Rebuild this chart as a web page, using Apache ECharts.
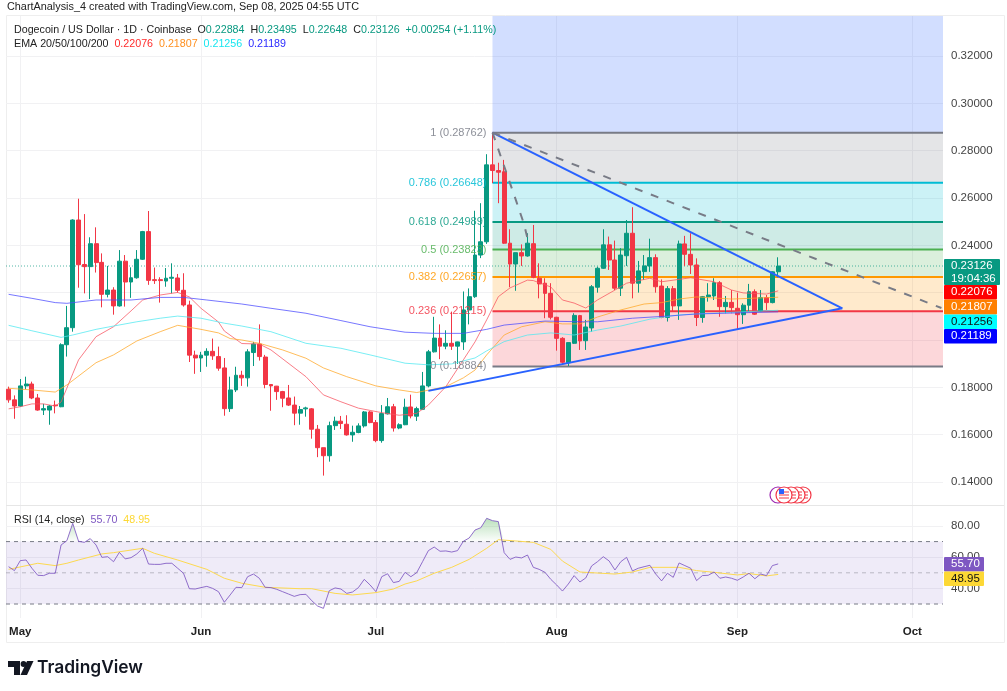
<!DOCTYPE html>
<html>
<head>
<meta charset="utf-8">
<title>DOGE/USD</title>
<style>
html,body{margin:0;padding:0;background:#fff}
#main{width:1007px;height:691px}
</style>
<script src="https://cdn.jsdelivr.net/npm/echarts@6/dist/echarts.min.js"></script>
</head>
<body>
<div id="main"></div>
<script>
// daily candles, index 0 = Apr 29 2025
let opens = [.1792,.1747,.1721,.1806,.1814,.1755,.1704,.1704,.1725,.1718,
.1980,.2052,.2507,.2319,.2310,.2407,.2328,.2193,.2211,.2144,
.2333,.2245,.2263,.2341,.2458,.2255,.2255,.2249,.2261,.2262,
.2210,.2148,.1936,.1924,.1936,.1952,.1930,.1882,.1710,.1789,
.1851,.1840,.1947,.1983,.1928,.1812,.1805,.1782,.1755,.1725,
.1691,.1709,.1709,.1623,.1545,.1511,.1638,.1657,.1644,.1599,
.1609,.1637,.1696,.1651,.1575,.1688,.1718,.1628,.1642,.1717,
.1678,.1707,.1806,.1950,.2008,.1974,.1986,.1974,.1992,.2127,
.2183,.2359,.2415,.2740,.2716,.2711,.2409,.2321,.2369,.2355,
.2407,.2261,.2240,.2197,.2096,.2007,.1904,.1986,.2103,.1997,
.2051,.2223,.2303,.2402,.2338,.2219,.2356,.2451,.2240,.2289,
.2313,.2348,.2228,.2095,.2217,.2144,.2406,.2362,.2317,.2095,
.2183,.2186,.2242,.2141,.2159,.2134,.2107,.2147,.2204,.2123,
.2179,.2158,.22884]
let highs = [.1803,.1766,.1835,.1845,.1824,.1772,.1730,.1725,.1744,.1986,
.2144,.2510,.2597,.2532,.2434,.2476,.2366,.2313,.2223,.2380,
.2359,.2307,.2380,.2461,.2545,.2306,.2265,.2304,.2324,.2279,
.2282,.2166,.1955,.1950,.1965,.2006,.1972,.1924,.1845,.1887,
.1870,.1961,.1992,.2066,.1937,.1814,.1806,.1785,.1810,.1761,
.1721,.1718,.1712,.1641,.1545,.1655,.1676,.1679,.1682,.1638,
.1648,.1700,.1700,.1662,.1725,.1755,.1730,.1648,.1752,.1769,
.1718,.1865,.1958,.2098,.2066,.2041,.2120,.1993,.2205,.2218,
.2546,.2578,.2785,.2876,.2749,.2761,.2468,.2369,.2404,.2451,
.2486,.2324,.2261,.2240,.2098,.2012,.1989,.2113,.2106,.2085,
.2232,.2310,.2468,.2437,.2420,.2388,.2507,.2561,.2334,.2359,
.2428,.2362,.2256,.2228,.2228,.2420,.2440,.2451,.2345,.2186,
.2240,.2261,.2249,.2186,.2211,.2200,.2155,.2237,.2214,.2211,
.2190,.2290,.23495]
let lows = [.1735,.1667,.1718,.1792,.1750,.1701,.1683,.1642,.1690,.1716,
.1930,.2035,.2221,.2197,.2173,.2285,.2138,.2180,.2107,.2141,
.2141,.2178,.2259,.2338,.2233,.2237,.2158,.2225,.2197,.2200,
.2141,.1907,.1857,.1865,.1887,.1916,.1870,.1680,.1696,.1780,
.1806,.1803,.1890,.1913,.1796,.1701,.1747,.1716,.1721,.1640,
.1642,.1676,.1583,.1505,.1427,.1486,.1620,.1624,.1596,.1570,
.1606,.1630,.1648,.1568,.1566,.1685,.1613,.1623,.1640,.1669,
.1658,.1704,.1800,.1947,.1919,.1961,.1958,.1899,.1958,.2066,
.2178,.2346,.2406,.2663,.2578,.2406,.2223,.2208,.2313,.2352,
.2261,.2176,.2092,.2087,.1955,.1899,.1890,.1983,.1958,.1958,
.2035,.2200,.2300,.2296,.2211,.2186,.2313,.2176,.2200,.2254,
.2288,.2200,.2092,.2078,.2120,.2085,.2313,.2279,.2059,.2073,
.2162,.2169,.2098,.2113,.2113,.2045,.2068,.2120,.2106,.2120,
.2127,.2155,.22648]
let closes = [.1747,.1721,.1806,.1814,.1755,.1704,.1710,.1721,.1722,.1980,
.2052,.2507,.2318,.2310,.2407,.2327,.2193,.2211,.2144,.2333,
.2245,.2263,.2341,.2458,.2252,.2251,.2251,.2261,.2265,.2210,
.2148,.1936,.1924,.1936,.1952,.1933,.1881,.1710,.1789,.1851,
.1840,.1950,.1983,.1930,.1812,.1806,.1782,.1754,.1725,.1691,
.1706,.1713,.1623,.1545,.1511,.1638,.1657,.1647,.1599,.1610,
.1637,.1696,.1651,.1575,.1689,.1718,.1628,.1642,.1716,.1679,
.1710,.1806,.1950,.2008,.1974,.1986,.1974,.1992,.2127,.2183,
.2359,.2415,.2740,.2716,.2709,.2409,.2321,.2369,.2355,.2409,
.2265,.2237,.2197,.2096,.2007,.1906,.1989,.2104,.1996,.2055,
.2225,.2303,.2402,.2338,.2219,.2359,.2451,.2240,.2292,.2313,
.2348,.2225,.2095,.2217,.2144,.2406,.2362,.2317,.2095,.2183,
.2190,.2242,.2141,.2159,.2137,.2107,.2147,.2204,.2109,.2179,
.2158,.2288,.23126]

let ema20 = [[0,.1709],[2,.1718],[4,.1730],[6,.1730],[8,.1721],[9,.1738],[10,.1797],[11,.1857],[12,.1916],[15,.2014],
[18,.2056],[21,.2123],[23,.2169],[26,.2190],[29,.2201],[31,.2182],[33,.2134],[36,.2076],[37,.2038],[40,.1985],
[43,.1983],[45,.1958],[51,.1845],[54,.1768],[57,.1739],[60,.1712],[64,.1693],[67,.1682],[70,.1690],[72,.1725],
[75,.1803],[78,.1916],[80,.1992],[82,.2085],[84,.2183],[86,.2220],[89,.2253],[90,.2251],[93,.2224],[95,.2169],
[97,.2156],[99,.2135],[101,.2169],[104,.2211],[106,.2240],[110,.2261],[112,.2246],[117,.2263],[121,.2246],[124,.2211],
[126,.2199],[130,.2194],[132,.22076]]
let ema50 = [[0,.1796],[4,.1789],[8,.1780],[10,.1810],[15,.1904],[18,.1937],[22,.1996],[26,.2035],[29,.2062],[33,.2045],
[36,.2030],[38,.2006],[40,.2000],[43,.1986],[47,.1958],[51,.1923],[54,.1882],[58,.1845],[63,.1806],[67,.1789],
[70,.1778],[75,.1803],[78,.1840],[80,.1873],[82,.1937],[85,.2021],[88,.2056],[92,.2077],[95,.2068],[98,.2068],
[101,.2097],[105,.2127],[109,.2152],[112,.2158],[115,.2173],[118,.2182],[124,.2173],[132,.21807]]
let ema100 = [[0,.2062],[4,.2039],[9,.2011],[11,.2021],[15,.2045],[18,.2059],[22,.2077],[26,.2092],[29,.2101],[33,.2092],
[37,.2071],[40,.2059],[45,.2035],[51,.1986],[57,.1965],[62,.1937],[68,.1902],[72,.1895],[76,.1899],[80,.1924],
[82,.1954],[85,.1993],[89,.2021],[93,.2030],[97,.2021],[101,.2042],[105,.2059],[110,.2088],[115,.2106],[118,.2110],[132,.21256]]
let ema200 = [[0,.2193],[4,.2176],[8,.2158],[10,.2155],[15,.2169],[21,.2169],[26,.2180],[30,.2180],[34,.2169],[40,.2152],
[45,.2134],[51,.2113],[57,.2082],[62,.2056],[68,.2033],[73,.2028],[78,.2028],[82,.2045],[85,.2063],[92,.2080],
[98,.2077],[101,.2077],[107,.2092],[113,.2101],[118,.2110],[132,.21189]]

let rsi = [53.9,51.4,57.8,58.2,52.9,48.4,48.2,49.7,49.7,67.8,
70.6,81.7,70.2,69.5,71.9,67.8,59.9,60.3,57.1,63.1,
58.9,59.7,62.1,65.7,55.6,55.4,55.4,56.1,56.1,52.9,
49.7,39.8,39.6,40.5,41.3,40.0,37.9,31.1,35.8,40.7,
40.5,47.5,49.2,46.5,40.7,40.5,39.4,37.9,36.4,34.9,
36.0,36.2,32.1,28.7,27.2,38.5,40.3,39.6,36.8,37.7,
40.5,45.8,42.2,37.9,47.5,49.4,43.7,44.5,50.3,47.5,
50.1,57.1,64.2,66.5,63.8,64.0,63.3,64.2,70.2,72.3,
77.4,78.9,84.9,83.4,82.8,62.9,58.6,60.1,59.5,61.4,
53.5,52.2,50.3,45.8,42.2,38.3,42.8,48.2,44.1,46.7,
54.4,57.1,60.3,57.6,51.8,57.1,59.9,51.2,52.9,53.9,
54.8,49.2,44.8,49.7,47.1,56.3,54.6,52.9,45.0,48.2,
48.4,50.5,46.5,47.3,46.5,45.2,47.3,49.7,46.2,49.2,
48.2,54.6,55.7]
let rsiMa = [[0,52.2],[5,56.1],[8,54.6],[10,56.1],[12,58.2],[16,62.1],[18,62.9],[23,65.7],[25,62.5],[29,58.2],
[34,52.2],[37,46.5],[40,43.3],[44,40.7],[50,39.8],[52,39.8],[56,36.8],[59,35.8],[63,37.3],[66,39.6],
[68,42.8],[70,44.8],[73,49.7],[76,53.5],[79,58.6],[82,65.7],[84,71.2],[87,70.4],[90,69.5],[93,65.0],
[95,57.5],[98,50.5],[104,49.2],[107,50.5],[110,53.5],[115,53.5],[118,51.4],[121,50.3],[125,48.6],[127,49.5],
[130,48.0],[132,48.95]]

let monthTicks = [2,33,63,94,125,155]
let monthNames = ['May','Jun','Jul','Aug','Sep','Oct']
let priceTicks = [.14,.16,.18,.2,.22,.24,.26,.28,.3,.32]
let rsiTicks = [40,60,80]

let fibLevels = ['1','0.786','0.618','0.5','0.382','0.236','0']
let fibPrices = [.28762,.26648,.24989,.23823,.22657,.21215,.18884]
let fibColors = ['#787b86','#00bcd4','#089981','#4caf50','#ff9800','#f23645','#787b86']
let fibZones = ['rgba(120,123,134,.2)','rgba(0,188,212,.2)','rgba(8,153,129,.2)','rgba(76,175,80,.2)','rgba(255,152,0,.2)','rgba(242,54,69,.2)']

let xMin = -0.446, xMax = 160.27
let yMin = .13028, yMax = .3369
let fibStart = 83
let lastPrice = .23126

let trendDown = [[83,.28762],[143,.2134]]
let trendUp = [[72,.1785],[143,.2134]]
let dashLong = [[83,.28762],[160,.2135]]
let dashShort = [[83,.28762],[87,.2592],[88.4,.2490],[89,.2430]]

let font = '"Liberation Sans", Arial, sans-serif'
let candles = opens.map((o, i) => [i, o, closes[i], lows[i], highs[i]])

let series = []

// fib zones behind everything
let zones = [[{xAxis: fibStart, yAxis: yMax, itemStyle: {color: 'rgba(41,98,255,.21)'}}, {xAxis: xMax, yAxis: fibPrices[0]}]]
fibZones.forEach((c, i) => {
    zones.push([{xAxis: fibStart, yAxis: fibPrices[i], itemStyle: {color: c}}, {xAxis: xMax, yAxis: fibPrices[i + 1]}])
})
series.push({type: 'line', data: [], silent: true, markArea: {silent: true, data: zones}})

fibPrices.forEach((p, i) => {
    series.push({type: 'line', z: 3, symbol: 'none', silent: true, data: [[fibStart, p], [xMax, p]],
        lineStyle: {color: fibColors[i], width: 2}})
})
series.push({type: 'scatter', z: 7, symbolSize: 0, silent: true,
    data: fibPrices.map((p, i) => ({
        value: [fibStart, p],
        label: {show: true, position: 'left', distance: 6, fontFamily: font, fontSize: 11, color: fibColors[i], opacity: .85,
            formatter: fibLevels[i] + ' (' + p.toFixed(5) + ')'}
    }))
})

series.push({type: 'line', z: 3, symbol: 'none', silent: true, data: [[xMin, lastPrice], [xMax, lastPrice]],
    lineStyle: {color: '#089981', width: 1, type: [1, 2], opacity: .7}})

series.push({type: 'candlestick', z: 4, data: candles, barWidth: 4.4,
    itemStyle: {color: '#089981', borderColor: '#089981', color0: '#f23645', borderColor0: '#f23645', borderWidth: 1}})

let emaSeries = [[ema20, '#f7525f'], [ema50, '#ffa726'], [ema100, '#4de8f0'], [ema200, '#4a4aff']]
emaSeries.forEach(e => {
    series.push({type: 'line', z: 5, symbol: 'none', silent: true, data: e[0], lineStyle: {color: e[1], width: 1, opacity: .75}})
})

series.push({type: 'line', z: 6, symbol: 'none', silent: true, data: trendDown, lineStyle: {color: '#2962ff', width: 2}})
series.push({type: 'line', z: 6, symbol: 'none', silent: true, data: trendUp, lineStyle: {color: '#2962ff', width: 2}})
series.push({type: 'line', z: 6, symbol: 'none', silent: true, data: dashLong, lineStyle: {color: '#787b86', width: 2, type: [8, 9]}})
series.push({type: 'line', z: 6, symbol: 'none', silent: true, data: dashShort, lineStyle: {color: '#787b86', width: 2, type: [8, 9]}})

// rsi pane
series.push({type: 'line', xAxisIndex: 1, yAxisIndex: 1, data: [], silent: true,
    markArea: {silent: true, data: [[{xAxis: xMin, yAxis: 70, itemStyle: {color: 'rgba(126,87,194,.12)'}}, {xAxis: xMax, yAxis: 30}]]}})
let bandLines = [[70, 1], [50, .45], [30, 1]]
bandLines.forEach(b => {
    series.push({type: 'line', xAxisIndex: 1, yAxisIndex: 1, z: 3, symbol: 'none', silent: true, data: [[xMin, b[0]], [xMax, b[0]]],
        lineStyle: {color: '#787b86', width: 1, type: [4, 4], opacity: b[1]}})
})
series.push({type: 'line', xAxisIndex: 1, yAxisIndex: 1, z: 3, symbol: 'none', silent: true,
    data: rsi.map((v, i) => [i, Math.max(v, 70)]),
    lineStyle: {width: 0},
    areaStyle: {origin: 70, color: new echarts.graphic.LinearGradient(0, 0, 0, 1, [
        {offset: 0, color: 'rgba(76,175,80,.55)'}, {offset: 1, color: 'rgba(76,175,80,.02)'}])}})
series.push({type: 'line', xAxisIndex: 1, yAxisIndex: 1, z: 4, symbol: 'none', silent: true, data: rsiMa,
    lineStyle: {color: '#fdd94f', width: 1}})
series.push({type: 'line', xAxisIndex: 1, yAxisIndex: 1, z: 5, symbol: 'none', silent: true, data: rsi.map((v, i) => [i, v]),
    lineStyle: {color: '#7e57c2', width: 1, opacity: .85}})

// price tags on the right side
function tag(y, h, w, bg, color, text) {
    return {type: 'group', z: 100, children: [
        {type: 'rect', z: 100, shape: {x: 944, y: y, width: w, height: h, r: 1}, style: {fill: bg}},
        {type: 'text', z: 101, style: {x: 951, y: y + h / 2, text: text, fill: color, font: '11.5px ' + font, lineHeight: 13, verticalAlign: 'middle'}}
    ]}
}

// event icons above the rsi pane
let icons = []
let iconX = [803, 797, 791, 784]
icons.push({type: 'circle', z: 50, shape: {cx: 778, cy: 495, r: 8}, style: {fill: '#fff', stroke: '#9c27b0', lineWidth: 1.2}})
iconX.forEach((x, i) => {
    icons.push({type: 'circle', z: 51 + i, shape: {cx: x, cy: 495, r: 8}, style: {fill: '#fff', stroke: '#f23645', lineWidth: 1.2}})
    ;[-3, 0, 3].forEach(d => {
        icons.push({type: 'line', z: 51 + i, shape: {x1: x - 5, y1: 495 + d, x2: x + 5, y2: 495 + d}, style: {stroke: '#f23645', lineWidth: 1}})
    })
})
icons.push({type: 'rect', z: 56, shape: {x: 779, y: 489, width: 5, height: 5}, style: {fill: '#2962ff'}})

let headRich = {
    k: {fontFamily: font, fontSize: 10.7, fill: '#222'},
    g: {fontFamily: font, fontSize: 10.7, fill: '#089981'},
    r: {fontFamily: font, fontSize: 10.7, fill: '#ff2a2a'},
    o: {fontFamily: font, fontSize: 10.7, fill: '#ff9020'},
    c: {fontFamily: font, fontSize: 10.7, fill: '#17e6f0'},
    b: {fontFamily: font, fontSize: 10.7, fill: '#2a2aff'},
    p: {fontFamily: font, fontSize: 10.7, fill: '#7e57c2'},
    y: {fontFamily: font, fontSize: 10.7, fill: '#fdd835'}
}

let graphic = [
    {type: 'rect', z: 0, silent: true, shape: {x: 6.5, y: 15.5, width: 998, height: 627}, style: {fill: 'none', stroke: '#eeeeee', lineWidth: 1}},
    {type: 'line', z: 0, shape: {x1: 6, y1: 505.5, x2: 1004, y2: 505.5}, style: {stroke: '#e6e6e6', lineWidth: 1}},
    {type: 'text', z: 60, style: {x: 7, y: 7, text: 'ChartAnalysis_4 created with TradingView.com, Sep 08, 2025 04:55 UTC', fill: '#222', font: '10.85px ' + font, verticalAlign: 'middle'}},
    {type: 'text', z: 60, style: {x: 14, y: 30, verticalAlign: 'middle', rich: headRich,
        text: '{k|Dogecoin / US Dollar · 1D · Coinbase  O}{g|0.22884}{k|  H}{g|0.23495}{k|  L}{g|0.22648}{k|  C}{g|0.23126  +0.00254 (+1.11%)}'}},
    {type: 'text', z: 60, style: {x: 14, y: 44, verticalAlign: 'middle', rich: headRich,
        text: '{k|EMA 20/50/100/200  }{r|0.22076}{k|  }{o|0.21807}{k|  }{c|0.21256}{k|  }{b|0.21189}'}},
    {type: 'text', z: 60, style: {x: 14, y: 520, verticalAlign: 'middle', rich: headRich,
        text: '{k|RSI (14, close)  }{p|55.70}{k|  }{y|48.95}'}},
    tag(259, 26, 56, '#089981', '#fff', '0.23126\n19:04:36'),
    tag(285, 14.5, 53, '#ff0000', '#fff', '0.22076'),
    tag(299.5, 15, 53, '#ff7f00', '#fff', '0.21807'),
    tag(314.5, 14.5, 53, '#00ffff', '#111', '0.21256'),
    tag(329, 14.5, 53, '#0000ff', '#fff', '0.21189'),
    tag(557, 14.5, 40, '#7e57c2', '#fff', '55.70'),
    tag(571.5, 14.5, 40, '#fdd835', '#111', '48.95'),
    // tradingview mark
    {type: 'polygon', z: 60, shape: {points: [[8, 661], [20, 661], [20, 675], [14, 675], [14, 667], [8, 667]]}, style: {fill: '#131722'}},
    {type: 'polygon', z: 60, shape: {points: [[33.5, 661], [27, 675], [20.5, 675], [27, 661]]}, style: {fill: '#131722'}},
    {type: 'circle', z: 60, shape: {cx: 23.5, cy: 664, r: 2.9}, style: {fill: '#131722'}},
    {type: 'text', z: 60, style: {x: 37, y: 668, text: 'TradingView', fill: '#131722', font: '600 17.4px Inter, ' + font, verticalAlign: 'middle'}}
].concat(icons)

let gridLine = {show: true, lineStyle: {color: '#f1f1f3', width: 1}}

let option = {
    animation: false,
    backgroundColor: '#fff',
    grid: [
        {left: 6, top: 16, width: 937, height: 489},
        {left: 6, top: 506, width: 937, height: 112}
    ],
    xAxis: [
        {type: 'value', gridIndex: 0, min: xMin, max: xMax, axisLine: {show: false}, axisLabel: {show: false},
            axisTick: {show: false, customValues: monthTicks}, splitLine: gridLine},
        {type: 'value', gridIndex: 1, min: xMin, max: xMax, axisLine: {show: false},
            axisTick: {show: false, customValues: monthTicks}, splitLine: gridLine,
            axisLabel: {customValues: monthTicks, margin: 8, fontFamily: font, fontSize: 11.5, fontWeight: 'bold', color: '#222',
                formatter: v => monthNames[monthTicks.indexOf(v)]}}
    ],
    yAxis: [
        {type: 'value', gridIndex: 0, position: 'right', min: yMin, max: yMax, scale: true, axisLine: {show: false},
            axisTick: {show: false, customValues: priceTicks}, splitLine: gridLine,
            axisLabel: {customValues: priceTicks, margin: 8, fontFamily: font, fontSize: 11.5, color: '#444',
                formatter: v => v.toFixed(5)}},
        {type: 'value', gridIndex: 1, position: 'right', min: 21.03, max: 92.8, axisLine: {show: false},
            axisTick: {show: false, customValues: rsiTicks}, splitLine: gridLine,
            axisLabel: {customValues: rsiTicks, margin: 8, fontFamily: font, fontSize: 11.5, color: '#444',
                formatter: v => v.toFixed(2)}}
    ],
    graphic: graphic,
    series: series
}

let chart = echarts.init(document.getElementById('main'), null, {renderer: 'canvas'})
chart.setOption(option)
</script>
</body>
</html>
